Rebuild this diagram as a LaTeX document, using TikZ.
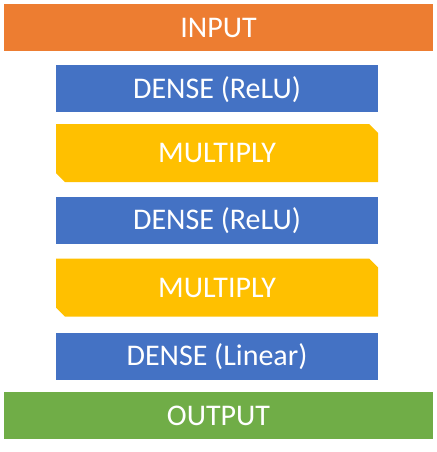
\documentclass[tikz,border=0pt]{standalone}
\usepackage{fontspec}
\setmainfont{Carlito}
\usetikzlibrary{shapes.misc}
\definecolor{inorange}{HTML}{ED7D31}
\definecolor{denseblue}{HTML}{4472C4}
\definecolor{multyellow}{HTML}{FFC000}
\definecolor{outgreen}{HTML}{70AD47}
\begin{document}
\begin{tikzpicture}[x=1pt, y=-1pt,
    layer/.style={inner sep=0pt, text=white, font=\fontsize{30}{35}\selectfont,
        text height=19.3pt, text depth=0pt},
    wide/.style={layer, minimum width=429pt, minimum height=47pt},
    dense/.style={layer, fill=denseblue, minimum width=322pt, minimum height=47pt},
    multiply/.style={layer, fill=multyellow, chamfered rectangle,
        chamfered rectangle corners={north east, south west},
        chamfered rectangle xsep=4.5pt, chamfered rectangle ysep=4.5pt,
        minimum width=322pt, minimum height=58pt}]
    \useasboundingbox (0,0) rectangle (436,452);

    % Input / Output
    \node[wide, fill=inorange] (input) at (218.5,27.5) {INPUT};
    \node[wide, fill=outgreen] (output) at (218.5,415.5) {OUTPUT};

    % Hidden layers
    \node[dense] (dense1) at (217,88.5) {DENSE (ReLU)};
    \node[multiply] (mult1) at (217,153) {MULTIPLY};
    \node[dense] (dense2) at (217,220) {DENSE (ReLU)};
    \node[multiply] (mult2) at (217,287.5) {MULTIPLY};
    \node[dense] (dense3) at (217,356) {DENSE (Linear)};
\end{tikzpicture}
\end{document}
